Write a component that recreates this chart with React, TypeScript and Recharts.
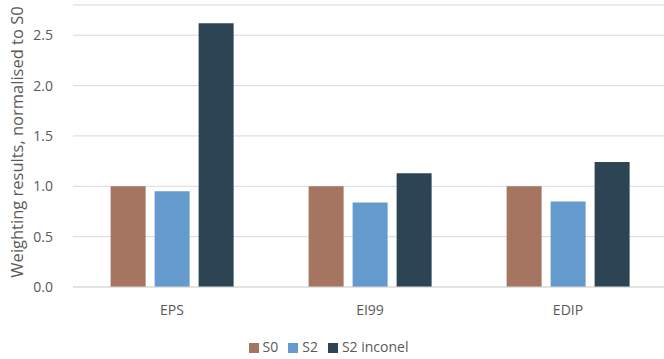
import { BarChart, Bar, XAxis, YAxis, CartesianGrid, Legend } from 'recharts';

const methods = ['EPS', 'EI99', 'EDIP'];
const s0Values = [1.0, 1.0, 1.0];
const s2Values = [0.95, 0.84, 0.85];
const s2InconelValues = [2.62, 1.13, 1.24];
const yTicks = [0, 0.5, 1.0, 1.5, 2.0, 2.5];

const chartData = methods.map((method, i) => ({
  method,
  s0: s0Values[i],
  s2: s2Values[i],
  s2Inconel: s2InconelValues[i],
}));

const FONT = '"Open Sans", "Noto Sans", sans-serif';
const TEXT = '#595959';

export default function App() {
  return (
    <div style={{ position: 'absolute', left: 0, top: 0, background: '#fff' }}>
      <BarChart
        width={664}
        height={359}
        data={chartData}
        margin={{ top: 5, right: -3, left: 0, bottom: 0 }}
        barGap={9}
        barCategoryGap="19%"
      >
        <CartesianGrid vertical={false} stroke="#D9D9D9" />
        <XAxis
          dataKey="method"
          height={50}
          tickLine={false}
          axisLine={{ stroke: '#D9D9D9' }}
          tick={{ fill: TEXT, fontSize: 14, fontFamily: FONT }}
          tickMargin={12}
        />
        <YAxis
          width={73}
          domain={[0, 2.8]}
          ticks={yTicks}
          tickFormatter={(v: number) => v.toFixed(1)}
          tickLine={false}
          axisLine={false}
          tick={{ fill: TEXT, fontSize: 14, fontFamily: FONT }}
          tickMargin={14}
          label={{
            value: 'Weighting results, normalised to S0',
            angle: -90,
            position: 'insideLeft',
            offset: 17,
            dy: -4,
            style: { fill: TEXT, fontSize: 16.5, fontFamily: FONT, textAnchor: 'middle' },
          }}
        />
        <Legend
          verticalAlign="bottom"
          height={22}
          iconType="square"
          iconSize={10}
          formatter={(value: string) => (
            <span style={{ color: TEXT, fontSize: 14, fontFamily: FONT }}>{value}</span>
          )}
        />
        <Bar dataKey="s0" name="S0" fill="#A57562" isAnimationActive={false} />
        <Bar dataKey="s2" name="S2" fill="#659ACC" isAnimationActive={false} />
        <Bar dataKey="s2Inconel" name="S2 inconel" fill="#2D4454" isAnimationActive={false} />
      </BarChart>
    </div>
  );
}
